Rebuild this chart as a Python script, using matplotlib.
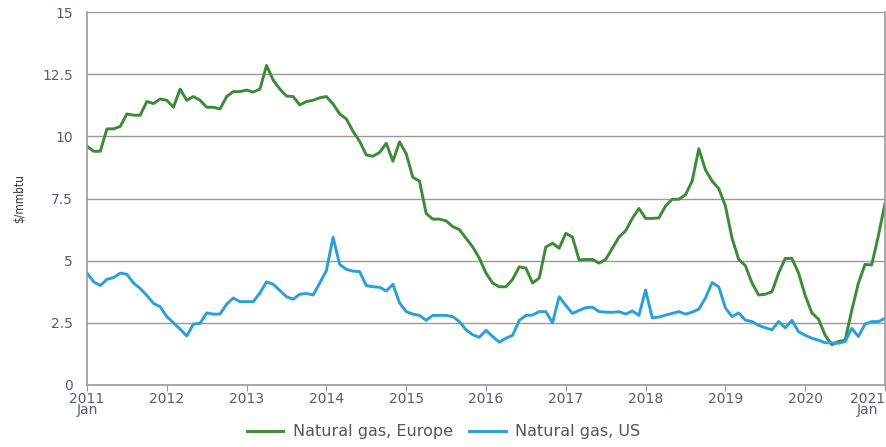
import numpy as np
import matplotlib
matplotlib.use("Agg")
import matplotlib.pyplot as plt

#=============================================
# Natural gas prices, Europe vs US ($/mmbtu)
#=============================================

# monthly values, Jan 2011 .. Jan 2021
europe = [
    9.6, 9.4, 9.4, 10.3, 10.3, 10.4, 10.9, 10.85, 10.85, 11.4, 11.32, 11.5,      # 2011
    11.45, 11.17, 11.9, 11.45, 11.6, 11.45, 11.17, 11.17, 11.1, 11.6, 11.8, 11.8,  # 2012
    11.86, 11.78, 11.9, 12.85, 12.26, 11.9, 11.62, 11.6, 11.26, 11.4, 11.45, 11.55,  # 2013
    11.6, 11.3, 10.9, 10.7, 10.2, 9.8, 9.25, 9.2, 9.35, 9.72, 9.0, 9.78,        # 2014
    9.3, 8.35, 8.2, 6.9, 6.67, 6.67, 6.6, 6.37, 6.25, 5.9, 5.55, 5.1,           # 2015
    4.5, 4.1, 3.95, 3.95, 4.25, 4.75, 4.7, 4.1, 4.3, 5.55, 5.7, 5.5,            # 2016
    6.1, 5.95, 5.03, 5.05, 5.05, 4.9, 5.05, 5.5, 5.95, 6.2, 6.7, 7.1,           # 2017
    6.7, 6.7, 6.72, 7.2, 7.47, 7.47, 7.65, 8.2, 9.5, 8.65, 8.2, 7.9,            # 2018
    7.2, 5.9, 5.05, 4.8, 4.1, 3.62, 3.65, 3.75, 4.5, 5.09, 5.09, 4.5,           # 2019
    3.6, 2.9, 2.65, 2.0, 1.62, 1.75, 1.8, 3.0, 4.1, 4.85, 4.83, 6.0,            # 2020
    7.3,                                                                        # 2021
]
us = [
    4.5, 4.15, 4.0, 4.25, 4.32, 4.5, 4.45, 4.1, 3.88, 3.6, 3.28, 3.15,          # 2011
    2.75, 2.5, 2.25, 1.97, 2.45, 2.48, 2.9, 2.85, 2.85, 3.25, 3.5, 3.35,        # 2012
    3.35, 3.35, 3.7, 4.15, 4.05, 3.8, 3.55, 3.45, 3.65, 3.68, 3.62, 4.1,        # 2013
    4.6, 5.94, 4.85, 4.65, 4.58, 4.56, 4.0, 3.95, 3.93, 3.78, 4.05, 3.3,        # 2014
    2.95, 2.85, 2.8, 2.6, 2.8, 2.8, 2.8, 2.75, 2.55, 2.22, 2.02, 1.92,          # 2015
    2.2, 1.95, 1.72, 1.88, 2.0, 2.6, 2.8, 2.81, 2.95, 2.95, 2.5, 3.55,          # 2016
    3.2, 2.88, 3.0, 3.11, 3.13, 2.95, 2.93, 2.92, 2.95, 2.85, 2.98, 2.8,        # 2017
    3.82, 2.7, 2.73, 2.81, 2.88, 2.95, 2.85, 2.93, 3.05, 3.5, 4.12, 3.95,       # 2018
    3.1, 2.75, 2.9, 2.61, 2.55, 2.4, 2.3, 2.22, 2.55, 2.3, 2.6, 2.14,           # 2019
    2.0, 1.88, 1.8, 1.7, 1.69, 1.68, 1.75, 2.28, 1.95, 2.45, 2.55, 2.55,        # 2020
    2.68,                                                                       # 2021
]
years = list(range(2011, 2022))
ylabels = ["0", "2.5", "5", "7.5", "10", "12.5", "15"]

t = 2011 + np.arange(len(europe)) / 12.0

fig = plt.figure(figsize=(8.87, 4.47), dpi=100)
ax = fig.add_axes([87 / 887, 1 - 385 / 447, (885 - 87) / 887, (385 - 12) / 447])

ax.plot(t, europe, color="#3d8a37", lw=2.1, label="Natural gas, Europe", solid_joinstyle="round")
ax.plot(t, us, color="#2a9fd8", lw=2.1, label="Natural gas, US", solid_joinstyle="round")

ax.set_xlim(2011, 2021)
ax.set_ylim(0, 15)
ax.set_yticks([0, 2.5, 5, 7.5, 10, 12.5, 15])
ax.set_yticklabels(ylabels)
ax.set_xticks(years)
xlab = [str(y) for y in years]
xlab[0] = "2011\nJan"
xlab[-1] = "2021\nJan"
ax.set_xticklabels(xlab, linespacing=0.7)
last = ax.get_xticklabels()[-1]
last.set_horizontalalignment("right")
last.set_multialignment("center")

ax.grid(axis="y", color="#9a9a9a", lw=1.0)
ax.set_axisbelow(True)
for s in ["left", "bottom", "right"]:
    ax.spines[s].set_color("#9a9a9a")
    ax.spines[s].set_linewidth(1.2)
ax.spines["top"].set_visible(False)

ax.tick_params(axis="y", length=0, pad=10, labelsize=10, labelcolor="#565b72")
ax.tick_params(axis="x", length=4, color="#9a9a9a", pad=1, labelsize=10, labelcolor="#565b72")

ax.set_ylabel("\\$/mmbtu", fontsize=8.5, family="DejaVu Sans", stretch="condensed",
              color="#333333", labelpad=12)

fig.legend(loc="lower center", bbox_to_anchor=(0.5, -0.015), ncol=2, frameon=False,
           fontsize=11.5, handlelength=2.3, columnspacing=1.0, handletextpad=0.6,
           labelcolor="#555555")

fig.savefig("out.png", dpi=100)
